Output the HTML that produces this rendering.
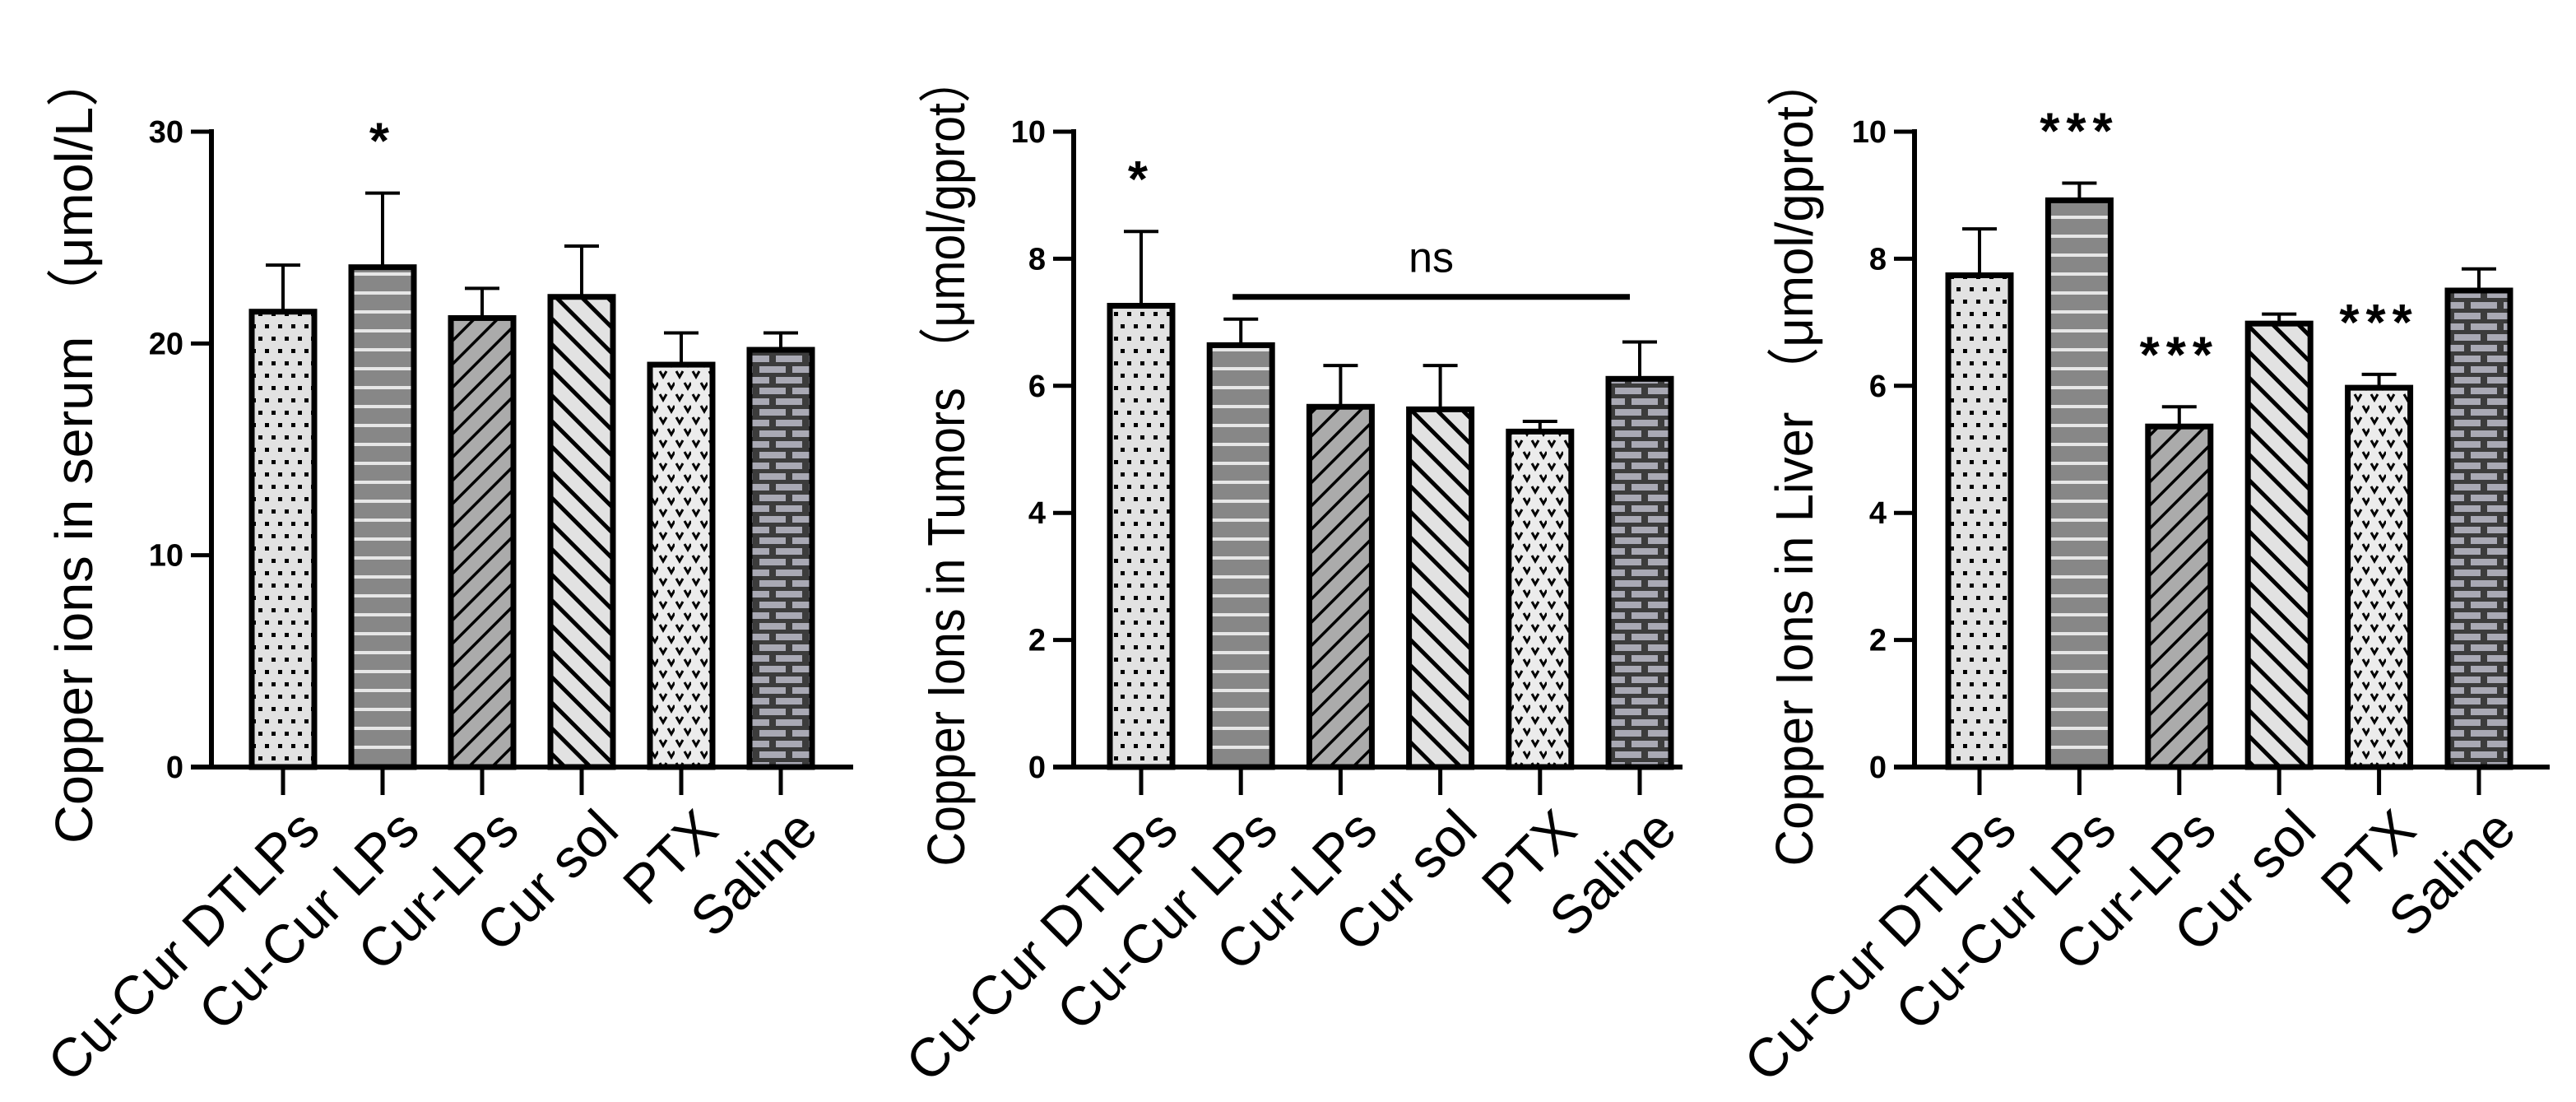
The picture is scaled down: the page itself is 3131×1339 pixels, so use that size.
<!DOCTYPE html>
<html><head><meta charset="utf-8"><style>
html,body{margin:0;padding:0;background:#fff;}
svg{display:block;}
</style></head><body>
<svg id="chart" xmlns="http://www.w3.org/2000/svg" width="3131" height="1339" viewBox="0 0 3131 1339">
<defs>
<pattern id="p-dots" patternUnits="userSpaceOnUse" width="16" height="30">
<rect width="16" height="30" fill="#e2e2e2"/><rect x="2" y="4" width="5" height="5" fill="#000"/><rect x="10" y="19" width="5" height="5" fill="#000"/></pattern>
<pattern id="p-hstripe" patternUnits="userSpaceOnUse" width="20" height="23">
<rect width="20" height="23" fill="#878787"/><rect y="9" width="20" height="4" fill="#e6e6e6"/></pattern>
<pattern id="p-fdiag" patternUnits="userSpaceOnUse" width="20" height="20" patternTransform="rotate(45)">
<rect width="20" height="20" fill="#ababab"/><rect x="0" y="0" width="3.5" height="20" fill="#000"/></pattern>
<pattern id="p-bdiag" patternUnits="userSpaceOnUse" width="22" height="22" patternTransform="rotate(-45)">
<rect width="22" height="22" fill="#e2e2e2"/><rect x="0" y="0" width="5" height="22" fill="#000"/></pattern>
<pattern id="p-heart" patternUnits="userSpaceOnUse" width="20" height="28">
<rect width="20" height="28" fill="#ececec"/><path d="M2 3 L6 10 L10 3" stroke="#000" stroke-width="3" fill="none"/><path d="M12 17 L16 24 L20 17" stroke="#000" stroke-width="3" fill="none"/></pattern>
<pattern id="p-brick" patternUnits="userSpaceOnUse" width="40" height="26">
<rect width="40" height="26" fill="#3c3c3c"/><rect x="3" y="3" width="32" height="8" fill="#a9a9b4"/><rect x="-17" y="16" width="32" height="8" fill="#a9a9b4"/><rect x="23" y="16" width="32" height="8" fill="#a9a9b4"/></pattern>
</defs>
</svg>
<script>
const categories = ["Cu-Cur DTLPs","Cu-Cur LPs","Cur-LPs","Cur sol","PTX","Saline"];
const serumMeans = [21.5, 23.6, 21.2, 22.2, 19.0, 19.7];
const serumErrors = [2.2, 3.5, 1.4, 2.4, 1.5, 0.8];
const serumTicks = [0, 10, 20, 30];
const tumorMeans = [7.26, 6.64, 5.67, 5.63, 5.28, 6.11];
const tumorErrors = [1.17, 0.41, 0.65, 0.69, 0.16, 0.58];
const tumorTicks = [0, 2, 4, 6, 8, 10];
const liverMeans = [7.74, 8.92, 5.36, 6.98, 5.97, 7.5];
const liverErrors = [0.73, 0.27, 0.31, 0.15, 0.21, 0.34];
const liverTicks = [0, 2, 4, 6, 8, 10];
const serumMarks = ["", "*", "", "", "", ""];
const tumorMarks = ["*", "", "", "", "", ""];
const liverMarks = ["", "***", "***", "", "***", ""];
const tumorNsRange = [1, 5];
const tumorNsValue = 7.4;

const NS = "http://www.w3.org/2000/svg";
const svg = document.getElementById("chart");
const fills = ["url(#p-dots)","url(#p-hstripe)","url(#p-fdiag)","url(#p-bdiag)","url(#p-heart)","url(#p-brick)"];

function mk(tag, attrs, parent, text){
  const e = document.createElementNS(NS, tag);
  for (const k in attrs) e.setAttribute(k, attrs[k]);
  if (text !== undefined) e.textContent = text;
  (parent || svg).appendChild(e);
  return e;
}

function panel(cfg){
  const g = mk("g", {});
  
  
  const y0 = 932, yTop = 160;
  const ymax = cfg.ticks[cfg.ticks.length-1];
  const yScale = v => y0 - (v / ymax) * (y0 - yTop);
  const xScale = i => cfg.firstX + i * cfg.step;
  const t = mk("text", {x:0, y:0, transform:`translate(${cfg.titleX},${cfg.titleY}) rotate(-90)`, "text-anchor":"middle", "font-family":"Liberation Sans, Noto Sans CJK SC, sans-serif", "font-size":"64", textLength: cfg.titleLen, lengthAdjust:"spacingAndGlyphs", fill:"#000"}, g, cfg.title);
  
  
  cfg.means.forEach((m, i) => {
    const cx = xScale(i), w = 76;
    const top = yScale(m), errTop = yScale(m + cfg.errors[i]);
    const eb = mk("line", {x1:cx, y1:top, x2:cx, y2:errTop, stroke:"#000", "stroke-width":4}, g);
    
    
    const cap = mk("line", {x1:cx-21, y1:errTop, x2:cx+21, y2:errTop, stroke:"#000", "stroke-width":4}, g);
    
    
    const r = mk("rect", {x:cx-w/2, y:top, width:w, height:y0-top, fill:fills[i], stroke:"#000", "stroke-width":7}, g);
    
    
    if (cfg.marks[i]) {
      const s = mk("text", {x:cx, y:errTop - 42, "text-anchor":"middle", "font-family":"Liberation Sans, sans-serif", "font-size":"62", "font-weight":"bold", "letter-spacing":"8", fill:"#000"}, g, cfg.marks[i]);
      
      
    }
    const tk = mk("line", {x1:cx, y1:y0, x2:cx, y2:y0+34, stroke:"#000", "stroke-width":5}, g);
    
    
    const lb = mk("text", {x:0, y:0, transform:`translate(${cx+48},${y0+80}) rotate(-45)`, "text-anchor":"end", "font-family":"Liberation Sans, sans-serif", "font-size":"66", fill:"#000"}, g, categories[i]);
    
    
  });
  const ya = mk("line", {x1:cfg.axisX, y1:yTop-3, x2:cfg.axisX, y2:y0+3, stroke:"#000", "stroke-width":6}, g);
  
  
  const xa = mk("line", {x1:cfg.axisX-25, y1:y0, x2:cfg.axisEnd, y2:y0, stroke:"#000", "stroke-width":6}, g);
  
  
  cfg.ticks.forEach(v => {
    const y = yScale(v);
    const tl = mk("line", {x1:cfg.axisX-25, y1:y, x2:cfg.axisX, y2:y, stroke:"#000", "stroke-width":5}, g);
    
    
    const tt = mk("text", {x:cfg.axisX-34, y:y+13, "text-anchor":"end", "font-family":"Liberation Sans, sans-serif", "font-size":"38", "font-weight":"bold", fill:"#000"}, g, String(v));
    
    
  });
  if (cfg.ns) {
    const ly = yScale(cfg.ns.value);
    const x1 = xScale(cfg.ns.range[0]) - 10, x2 = xScale(cfg.ns.range[1]) - 12;
    const nl = mk("line", {x1:x1, y1:ly, x2:x2, y2:ly, stroke:"#000", "stroke-width":7}, g);
    
    
    const nt = mk("text", {x:(x1+x2)/2, y:ly-30, "text-anchor":"middle", "font-family":"Liberation Sans, sans-serif", "font-size":"52", fill:"#000"}, g, "ns");
    
    
  }
}

panel({name:"serum-panel", title:"Copper ions in serum （μmol/L）", titleX:112, titleY:545, titleLen:960,
  axisX:257, axisEnd:1037, firstX:344, step:121, ticks:serumTicks, means:serumMeans, errors:serumErrors, marks:serumMarks});
panel({name:"tumor-panel", title:"Copper Ions in Tumors （μmol/gprot）", titleX:1172, titleY:560, titleLen:985,
  axisX:1305, axisEnd:2045, firstX:1387, step:121.2, ticks:tumorTicks, means:tumorMeans, errors:tumorErrors, marks:tumorMarks,
  ns:{range:tumorNsRange, value:tumorNsValue}});
panel({name:"liver-panel", title:"Copper Ions in Liver （μmol/gprot）", titleX:2203, titleY:560, titleLen:985,
  axisX:2327, axisEnd:3099, firstX:2406, step:121.4, ticks:liverTicks, means:liverMeans, errors:liverErrors, marks:liverMarks});
</script>
</body></html>
